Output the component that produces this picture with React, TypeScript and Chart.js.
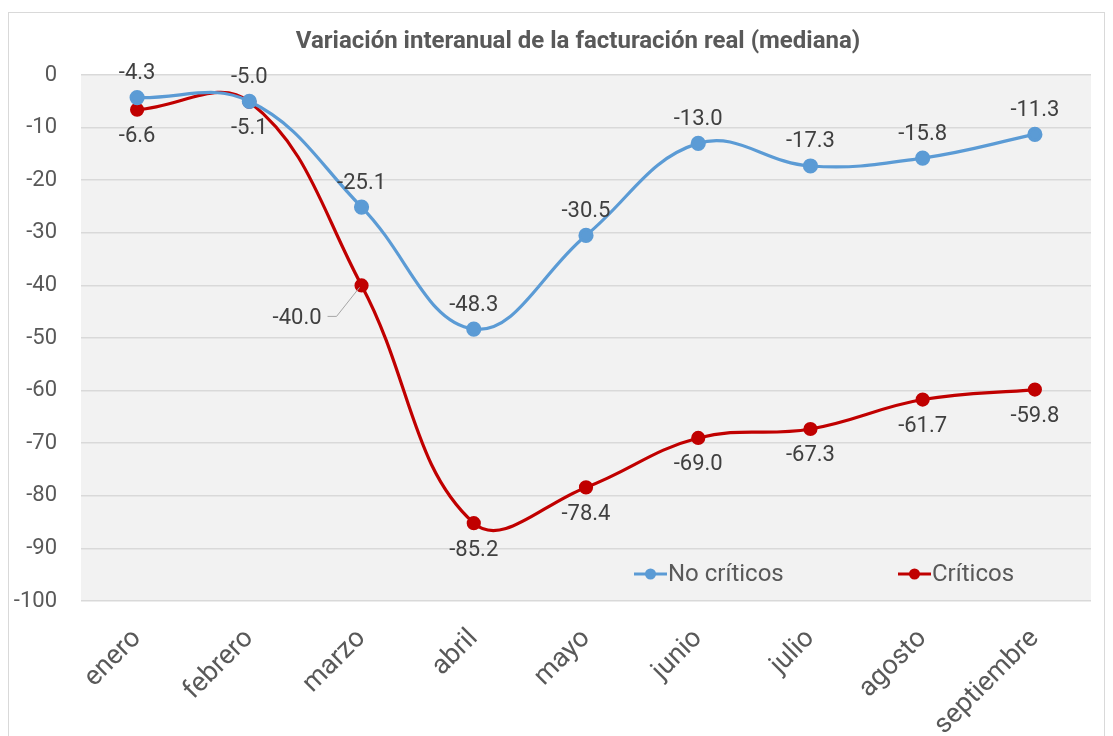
import React, { useEffect, useRef } from "react";
import { Chart, registerables } from "chart.js";

Chart.register(...registerables);

const months = ["enero", "febrero", "marzo", "abril", "mayo", "junio", "julio", "agosto", "septiembre"];
const noCriticos = [-4.3, -5.0, -25.1, -48.3, -30.5, -13.0, -17.3, -15.8, -11.3];
const criticos = [-6.6, -5.1, -40.0, -85.2, -78.4, -69.0, -67.3, -61.7, -59.8];
const seriesNames = ["No críticos", "Críticos"];
const seriesColors = ["#5b9bd5", "#c00000"];
const yTicks = [0, -10, -20, -30, -40, -50, -60, -70, -80, -90, -100];
const title = "Variación interanual de la facturación real (mediana)";

const FONT = "Roboto, 'DejaVu Sans', sans-serif";
const TEXT = "#595959";
const LABEL = "#404040";

const fmt = (v: number) => v.toFixed(1);

const decorPlugin = {
  id: "decor",
  beforeDraw(chart: any) {
    const { ctx, chartArea } = chart;
    ctx.save();
    ctx.fillStyle = "#ffffff";
    ctx.fillRect(0, 0, chart.width, chart.height);
    ctx.strokeStyle = "#d9d9d9";
    ctx.lineWidth = 1;
    ctx.strokeRect(8.5, 12.5, 1096, 760);
    ctx.fillStyle = "#f2f2f2";
    ctx.fillRect(chartArea.left, chartArea.top, chartArea.right - chartArea.left, chartArea.bottom - chartArea.top);
    ctx.restore();
  },
  afterDraw(chart: any) {
    const { ctx } = chart;
    ctx.save();
    // title
    ctx.fillStyle = TEXT;
    ctx.font = `bold 24px ${FONT}`;
    ctx.textAlign = "center";
    ctx.textBaseline = "middle";
    ctx.fillText(title, 578, 42);
    // legend
    const legendY = 574;
    const legendX = [634, 898];
    ctx.font = `24px ${FONT}`;
    ctx.textAlign = "left";
    chart.data.datasets.forEach((ds: any, i: number) => {
      const x = legendX[i];
      ctx.strokeStyle = ds.borderColor;
      ctx.lineWidth = 3;
      ctx.beginPath();
      ctx.moveTo(x, legendY);
      ctx.lineTo(x + 33, legendY);
      ctx.stroke();
      ctx.fillStyle = ds.borderColor;
      ctx.beginPath();
      ctx.arc(x + 16.5, legendY, 5.5, 0, Math.PI * 2);
      ctx.fill();
      ctx.fillStyle = TEXT;
      ctx.fillText(ds.label, x + 34, legendY + 1);
    });
    ctx.restore();
  },
  afterDatasetsDraw(chart: any) {
    const { ctx } = chart;
    ctx.save();
    ctx.font = `22px ${FONT}`;
    ctx.fillStyle = LABEL;
    ctx.textBaseline = "middle";
    chart.data.datasets.forEach((ds: any, di: number) => {
      const meta = chart.getDatasetMeta(di);
      meta.data.forEach((pt: any, i: number) => {
        const v = ds.data[i];
        const txt = fmt(v);
        if (di === 0) {
          ctx.textAlign = "center";
          ctx.fillText(txt, pt.x, pt.y - 24);
        } else if (i === 2) {
          // leader line to label on the left
          ctx.strokeStyle = "#a6a6a6";
          ctx.lineWidth = 1;
          ctx.beginPath();
          ctx.moveTo(pt.x - 2, pt.y + 2);
          ctx.lineTo(pt.x - 25, pt.y + 31);
          ctx.lineTo(pt.x - 34, pt.y + 31);
          ctx.stroke();
          ctx.textAlign = "right";
          ctx.fillText(txt, pt.x - 40, pt.y + 33);
        } else {
          ctx.textAlign = "center";
          ctx.fillText(txt, pt.x, pt.y + 27);
        }
      });
    });
    ctx.restore();
  },
};

export default function App() {
  const ref = useRef<HTMLCanvasElement | null>(null);
  useEffect(() => {
    document.body.style.margin = "0";
    if (!ref.current) return;
    const chart = new Chart(ref.current, {
      type: "line",
      data: {
        labels: months,
        datasets: [
          {
            label: seriesNames[0],
            data: noCriticos,
            borderColor: seriesColors[0],
            backgroundColor: seriesColors[0],
            borderWidth: 3.2,
            pointRadius: 6,
            pointHoverRadius: 6,
            tension: 0.4,
          },
          {
            label: seriesNames[1],
            data: criticos,
            borderColor: seriesColors[1],
            backgroundColor: seriesColors[1],
            borderWidth: 3.2,
            pointRadius: 5.5,
            pointHoverRadius: 5.5,
            tension: 0.4,
          },
        ],
      },
      options: {
        animation: false,
        responsive: false,
        maintainAspectRatio: false,
        layout: { padding: { top: 75, right: 22, left: 0, bottom: 0 } },
        plugins: {
          legend: { display: false },
          title: { display: false },
          tooltip: { enabled: false },
        },
        scales: {
          x: {
            offset: true,
            grid: { display: false, drawTicks: false },
            border: { display: false },
            ticks: {
              color: TEXT,
              font: { family: FONT, size: 27 },
              minRotation: 45,
              maxRotation: 45,
              padding: 22,
              autoSkip: false,
            },
            afterFit: (scale: any) => {
              scale.height = 135;
            },
          },
          y: {
            min: -100,
            max: 0,
            afterBuildTicks: (scale: any) => {
              scale.ticks = yTicks.map((v) => ({ value: v }));
            },
            grid: { color: "#d9d9d9", lineWidth: 1.5, drawTicks: false },
            border: { display: false },
            ticks: {
              color: TEXT,
              font: { family: FONT, size: 22 },
              padding: 24,
            },
            afterFit: (scale: any) => {
              scale.width = 81;
            },
          },
        },
      },
      plugins: [decorPlugin],
    });
    return () => chart.destroy();
  }, []);
  return <canvas ref={ref} width={1113} height={736} style={{ display: "block" }} />;
}
